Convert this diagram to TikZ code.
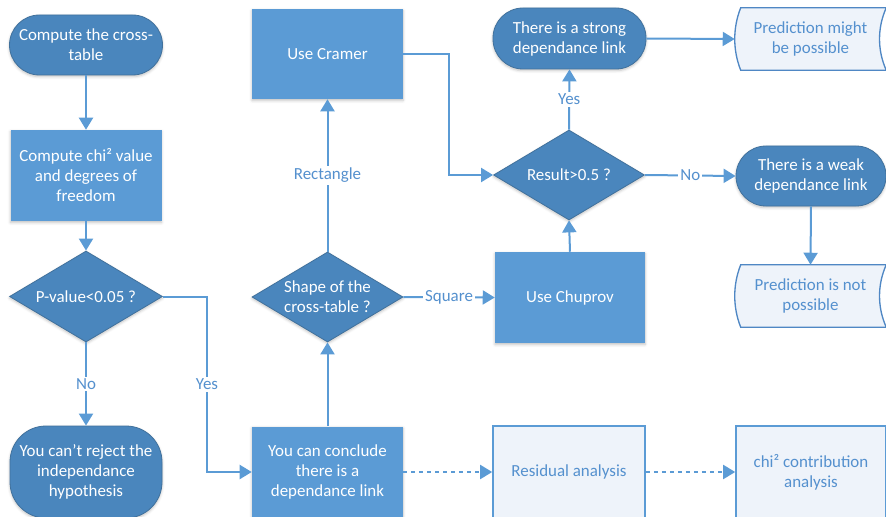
\documentclass[tikz,border=0pt]{standalone}
\usepackage{fontspec}
\setmainfont{Carlito}
\usetikzlibrary{arrows.meta,shapes.geometric,calc,shadows.blur,backgrounds}
\definecolor{dk}{RGB}{74,134,189}
\definecolor{dkedge}{RGB}{65,113,156}
\definecolor{md}{RGB}{91,155,213}
\definecolor{ln}{RGB}{91,155,213}
\definecolor{lt}{RGB}{238,243,250}
\definecolor{tx}{RGB}{84,144,206}
\definecolor{docedge}{RGB}{79,135,196}
\begin{document}
\begin{tikzpicture}[x=0.75pt,y=-0.75pt,
  every node/.style={font=\fontsize{12.7}{15}\selectfont, align=center, inner sep=0pt},
  shad/.style={blur shadow={shadow xshift=0pt,shadow yshift=-1.2pt,shadow blur radius=2pt,shadow opacity=25}},
  term/.style={rectangle, rounded corners=22.5pt, fill=dk, draw=dkedge, line width=0.6pt, text=white, shad},
  proc/.style={rectangle, fill=md, text=white, shad},
  dec/.style={diamond, fill=dk, draw=dkedge, line width=0.6pt, text=white, inner sep=-6pt, shad},
  lightbox/.style={rectangle, fill=lt, draw=ln, line width=1.2pt, text=tx},
  docnode/.style={rectangle, text=tx},
  lbl/.style={fill=white, text=tx, inner sep=1.5pt},
  conn/.style={draw=ln, line width=1.5pt, -{Triangle[length=9pt,width=10.5pt]}},
  dconn/.style={conn, dash pattern=on 3pt off 3pt}
]
\useasboundingbox (0,0) rectangle (886,517);
\clip (0,0) rectangle (886,517);

% left column
\node[term, minimum width={153*0.75pt}, minimum height={60*0.75pt}] (t1) at (86,45) {Compute the cross-\\table};
\node[proc, minimum width={151*0.75pt}, minimum height={91*0.75pt}] (r1) at (86,175.5) {Compute chi² value\\and degrees of\\freedom};
\node[dec, minimum width={153*0.75pt}, minimum height={91*0.75pt}] (d1) at (86,296.5) {P-value<0.05 ?};
\node[term, rounded corners=27pt, minimum width={152*0.75pt}, minimum height={92*0.75pt}] (t2) at (86,472) {You can’t reject the\\independance\\hypothesis};

% middle column
\node[proc, minimum width={151*0.75pt}, minimum height={91*0.75pt}] (r2) at (327.5,472) {You can conclude\\there is a\\dependance link};
\node[dec, minimum width={151*0.75pt}, minimum height={90*0.75pt}] (d2) at (327.5,297) {Shape of the\\cross-table ?};
\node[proc, minimum width={151*0.75pt}, minimum height={90*0.75pt}] (r3) at (327.5,54) {Use Cramer};

% right-middle column
\node[proc, minimum width={150*0.75pt}, minimum height={91*0.75pt}] (r4) at (570,297.5) {Use Chuprov};
\node[dec, minimum width={151*0.75pt}, minimum height={90*0.75pt}] (d3) at (569,175) {Result>0.5 ?};
\node[term, minimum width={153*0.75pt}, minimum height={61*0.75pt}] (t3) at (569.5,38.5) {There is a strong\\dependance link};
\node[lightbox, minimum width={152*0.75pt}, minimum height={92*0.75pt}] (b1) at (569,472) {Residual analysis};

% right column
\node[docnode, minimum width={151*0.75pt}, minimum height={62*0.75pt}] (doc1) at (810.5,39) {Prediction might\\be possible};
\node[term, minimum width={150*0.75pt}, minimum height={60*0.75pt}] (t4) at (811,176) {There is a weak\\dependance link};
\node[docnode, minimum width={151*0.75pt}, minimum height={62*0.75pt}] (doc2) at (810.5,296) {Prediction is not\\possible};
\node[lightbox, minimum width={150*0.75pt}, minimum height={92*0.75pt}] (b2) at (811,472) {chi² contribution\\analysis};

% stored-data shapes behind the document nodes
\begin{scope}[on background layer]
\foreach \n in {doc1,doc2}{
  \path[fill=lt, draw=docedge, line width=1pt]
    ($(\n.north west)+(6,0)$) -- (\n.north east)
    .. controls +(-9,20) and +(-9,-20) .. (\n.south east)
    -- ($(\n.south west)+(6,0)$)
    .. controls +(-8,-20) and +(-8,20) .. ($(\n.north west)+(6,0)$) -- cycle;
}
\end{scope}

% helper corners
\coordinate (c1) at (207,296.5);
\coordinate (c2) at (449,54);

% connectors
\draw[conn] (t1) -- (r1);
\draw[conn] (r1) -- (d1);
\draw[conn] (d1.south) -- node[lbl]{No} (t2.north);
\draw[conn] (d1.east) -- (c1) |- node[lbl, pos=0.25]{Yes} (r2.west);
\draw[conn] (r2.north) -- (d2.south);
\draw[conn] (d2.north) -- node[lbl]{Rectangle} (r3.south);
\draw[conn] (d2.east) -- node[lbl]{Square} (r4.west);
\draw[conn] (r3.east) -- (c2) |- (d3.west);
\draw[conn] (r4.north) -- (d3.south);
\draw[conn] (d3.north) -- node[lbl]{Yes} (t3.south);
\draw[conn] (t3.east) -- (doc1.west);
\draw[conn] (d3.east) -- node[lbl]{No} (t4.west);
\draw[conn] (t4.south) -- (doc2.north);
\draw[dconn] (r2.east) -- (b1.west);
\draw[dconn] (b1.east) -- (b2.west);
\end{tikzpicture}
\end{document}
